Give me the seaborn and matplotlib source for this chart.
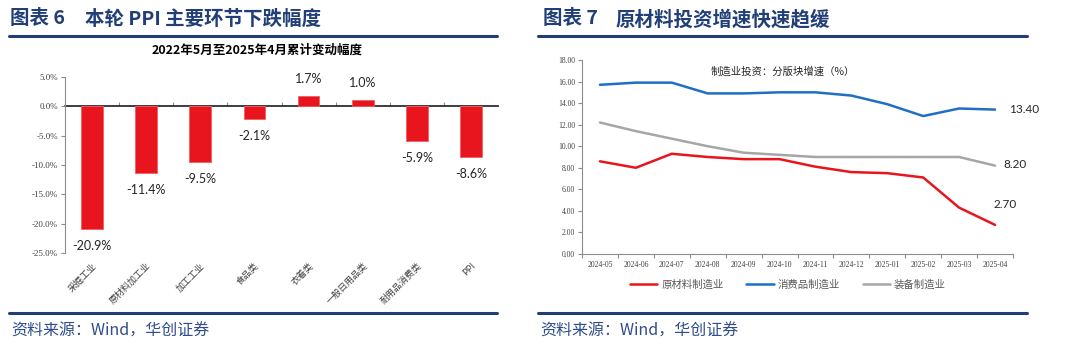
import pandas as pd
import matplotlib
matplotlib.use("Agg")  # sin GUI, guardar a PNG

import matplotlib.pyplot as plt
import seaborn as sns

# ---- 图表6: PPI 各环节累计变动 ----
ppi_cats = ["采掘工业", "原材料加工业", "加工工业", "食品类", "衣着类",
            "一般日用品类", "耐用品消费类", "PPI"]
ppi_vals = [-20.9, -11.4, -9.5, -2.1, 1.7, 1.0, -5.9, -8.6]
ppi_yticks = [5, 0, -5, -10, -15, -20, -25]

# ---- 图表7: 制造业投资分版块增速 ----
meses = ["2024-05", "2024-06", "2024-07", "2024-08", "2024-09", "2024-10",
         "2024-11", "2024-12", "2025-01", "2025-02", "2025-03", "2025-04"]
raw_mat = [8.6, 8.0, 9.3, 9.0, 8.8, 8.8, 8.1, 7.6, 7.5, 7.1, 4.3, 2.7]
consumo = [15.7, 15.9, 15.9, 14.9, 14.9, 15.0, 15.0, 14.7, 13.9, 12.8, 13.5, 13.4]
equipo = [12.2, 11.4, 10.7, 10.0, 9.4, 9.2, 9.0, 9.0, 9.0, 9.0, 9.0, 8.2]
series_names = ["原材料制造业", "消费品制造业", "装备制造业"]
line_yticks = [0, 2, 4, 6, 8, 10, 12, 14, 16, 18]

sns.set_theme(style="white")
plt.rcParams["font.family"] = ["Noto Sans CJK SC", "DejaVu Sans"]

NAVY = "#213E78"
RED = "#E8141E"
BLUE = "#1F6FC5"
GREY = "#A6A6A6"
AXC = "#8C8C8C"
TXT = "#404040"

W, H = 1080, 352
fig = plt.figure(figsize=(10.8, 3.52), dpi=100)

def px(x, y):
    return x / W, 1 - y / H

# titulos y reglas
fig.text(*px(10, 19), "图表 6", fontsize=14, fontweight="bold", color=NAVY,
         va="center", ha="left")
fig.text(*px(85, 19), "本轮 PPI 主要环节下跌幅度", fontsize=14,
         fontweight="bold", color=NAVY, va="center", ha="left")
fig.text(*px(543, 19), "图表 7", fontsize=14, fontweight="bold", color=NAVY,
         va="center", ha="left")
fig.text(*px(616, 19), "原材料投资增速快速趋缓", fontsize=14,
         fontweight="bold", color=NAVY, va="center", ha="left")
for x0, x1 in [(9, 497), (538, 1027)]:
    for yy in (36, 313):
        fig.add_artist(plt.Line2D([x0 / W, x1 / W], [1 - yy / H] * 2,
                                  color=NAVY, lw=2.2))
    fig.text(*px(x0 + 2, 331), "资料来源：Wind，华创证券", fontsize=11.5,
             color="#2F4C8C", va="center", ha="left", style="italic")

# ---- panel izquierdo ----
ax1 = fig.add_axes([65 / W, 1 - 253 / H, (498 - 65) / W, (253 - 77) / H])
df_ppi = pd.DataFrame({"cat": ppi_cats, "val": ppi_vals})
sns.barplot(data=df_ppi, x="cat", y="val", color=RED, width=0.4,
            edgecolor="#F06060", linewidth=0.6, saturation=1, ax=ax1)
ax1.set_ylim(-25, 5)
ax1.set_xlim(-0.5, len(ppi_cats) - 0.5)
ax1.set_yticks(ppi_yticks)
ax1.set_yticklabels([f"{v:.1f}%" for v in ppi_yticks], fontsize=6.5,
                    color=TXT, family="Liberation Serif")
ax1.set_xlabel("")
ax1.set_ylabel("")
ax1.set_xticks(range(len(ppi_cats)))
ax1.set_xticklabels(ppi_cats, rotation=45, ha="right", rotation_mode="anchor",
                    fontsize=6.5, color=TXT)
ax1.tick_params(axis="x", length=0, pad=6)
ax1.tick_params(axis="y", length=3, width=0.8, color=AXC, direction="out", pad=2, left=True)
for s in ["top", "right", "bottom"]:
    ax1.spines[s].set_visible(False)
ax1.spines["left"].set_color(AXC)
ax1.spines["left"].set_linewidth(0.8)
# eje en cero con marcas entre categorias
zero_frac = (0 - (-25)) / 30
sec = ax1.secondary_xaxis(zero_frac)
sec.set_xticks([i + 0.5 for i in range(len(ppi_cats) - 1)])
sec.set_xticklabels([])
sec.tick_params(length=3, width=0.8, color=AXC, direction="out")
sec.spines["bottom"].set_color(AXC)
sec.spines["bottom"].set_linewidth(1.0)
for i, v in enumerate(ppi_vals):
    off = 8 if v > 0 else -8
    ax1.annotate(f"{v:.1f}%", (i, v), xytext=(0, off), textcoords="offset points",
                 ha="center", va="bottom" if v > 0 else "top",
                 fontsize=9, color="#262626", family="Lato")
fig.text(*px(257, 50), "2022年5月至2025年4月累计变动幅度", fontsize=9,
         fontweight="bold", color="black", ha="center", va="center")

# ---- panel derecho ----
ax2 = fig.add_axes([582 / W, 1 - 254 / H, (1013 - 582) / W, (254 - 60) / H])
df_lines = pd.DataFrame({"mes": meses * 3,
                         "val": raw_mat + consumo + equipo,
                         "serie": [n for n in series_names for _ in meses]})
df_lines["x"] = list(range(len(meses))) * 3
sns.lineplot(data=df_lines, x="x", y="val", hue="serie", hue_order=series_names,
             palette=[RED, BLUE, GREY], linewidth=1.8, legend=False, ax=ax2)
ax2.set_ylim(0, 18)
ax2.set_xlim(-0.5, len(meses) - 0.5)
ax2.set_yticks(line_yticks)
ax2.set_yticklabels([f"{v:.2f}" for v in line_yticks], fontsize=5.5,
                    color=TXT, family="Liberation Serif")
ax2.set_xticks(range(len(meses)))
ax2.set_xticklabels(meses, fontsize=5.5, color=TXT, family="Liberation Serif")
ax2.set_xticks([i + 0.5 for i in range(-1, len(meses))], minor=True)
ax2.tick_params(axis="x", which="major", length=0, pad=5)
ax2.tick_params(axis="x", which="minor", length=3, width=0.8, color=AXC,
                direction="out", bottom=True)
ax2.tick_params(axis="y", length=3, width=0.8, color=AXC, direction="out", pad=2, left=True)
ax2.set_xlabel("")
ax2.set_ylabel("")
for s in ["top", "right"]:
    ax2.spines[s].set_visible(False)
for s in ["left", "bottom"]:
    ax2.spines[s].set_color(AXC)
    ax2.spines[s].set_linewidth(0.8)

last = len(meses) - 1
ax2.annotate(f"{consumo[-1]:.2f}", (last, consumo[-1]), xytext=(10, 0),
             textcoords="offset points", ha="left", va="center",
             fontsize=8.5, color="#262626", family="Lato")
ax2.annotate(f"{equipo[-1]:.2f}", (last, equipo[-1]), xytext=(6, 1),
             textcoords="offset points", ha="left", va="center",
             fontsize=8.5, color="#262626", family="Lato")
ax2.annotate(f"{raw_mat[-1]:.2f}", (last, raw_mat[-1]), xytext=(7, 11),
             textcoords="offset points", ha="center", va="bottom",
             fontsize=8.5, color="#262626", family="Lato")
fig.text(*px(783, 72), "制造业投资：分版块增速（%）", fontsize=7.5,
         color="#262626", ha="center", va="center")

handles = ax2.get_lines()[:3]
fig.legend(handles, series_names, loc="center", bbox_to_anchor=px(788, 285),
           ncol=3, frameon=False, fontsize=7.5, labelcolor="#595959",
           handlelength=2.6, columnspacing=2.2, handletextpad=0.4)

fig.savefig("out.png", dpi=100)
